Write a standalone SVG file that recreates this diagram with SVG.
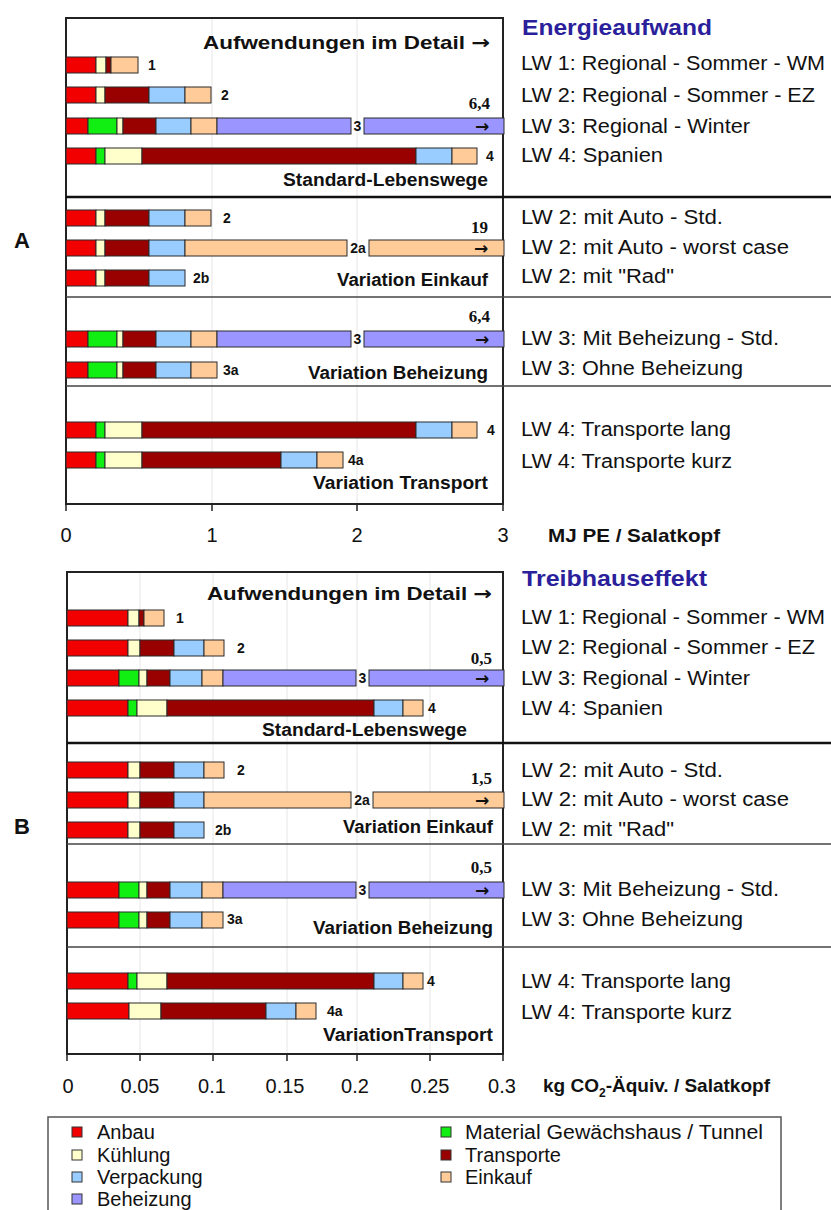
<svg xmlns="http://www.w3.org/2000/svg" width="831" height="1210" viewBox="0 0 831 1210">
<style>
text{font-family:"Liberation Sans",Arial,sans-serif;fill:#111}
.seg{stroke:#2a2a2a;stroke-width:1}
.r{fill:#f20000}.c{fill:#ffffcc}.d{fill:#990000}.b{fill:#99ccff}.t{fill:#ffcc99}.g{fill:#11ee11}.p{fill:#9b96ff}
.num{font-size:14px;font-weight:bold}
.val{font-family:"Liberation Serif","Times New Roman",serif;font-size:17px;font-weight:bold}
.arr{font-family:"DejaVu Sans",sans-serif;font-size:17px;font-weight:bold}
.ah{font-family:"DejaVu Sans",sans-serif;font-weight:bold}
.sec{font-size:19px;font-weight:bold}
.lw{font-size:20px}
.ttl{font-size:22px;font-weight:bold;fill:#2b1f9c}
.tick{font-size:20px;text-anchor:middle}
.ax{font-size:19px;font-weight:bold}
.leg{font-size:20px}
.grid{stroke:#e6e6e6;stroke-width:1}
.frame{fill:none;stroke:#222;stroke-width:2}
.thick{stroke:#111;stroke-width:2.5}
.thin{stroke:#444;stroke-width:1.5}
</style>

<!-- Letters -->
<text x="22" y="248" text-anchor="middle" style="font-size:22px;font-weight:bold">A</text>
<text x="22" y="834" text-anchor="middle" style="font-size:22px;font-weight:bold">B</text>

<!-- ================= TOP CHART ================= -->
<g id="chartA-frame">
  <line class="grid" x1="212" y1="19" x2="212" y2="503"/>
  <line class="grid" x1="357" y1="19" x2="357" y2="503"/>
  <rect class="frame" x="66" y="18" width="437" height="486"/>
  <line class="thick" x1="66" y1="197" x2="831" y2="197"/>
  <line class="thin" x1="66" y1="297" x2="831" y2="297"/>
  <line class="thin" x1="66" y1="386" x2="831" y2="386"/>
  <g stroke="#222" stroke-width="1.5">
    <line x1="66" y1="504" x2="66" y2="511"/>
    <line x1="212" y1="504" x2="212" y2="511"/>
    <line x1="357" y1="504" x2="357" y2="511"/>
    <line x1="503" y1="504" x2="503" y2="511"/>
  </g>
  <text class="tick" x="66" y="542">0</text>
  <text class="tick" x="212" y="542">1</text>
  <text class="tick" x="357" y="542">2</text>
  <text class="tick" x="503" y="542">3</text>
  <text class="ax" x="548" y="542" textLength="172" lengthAdjust="spacingAndGlyphs">MJ PE / Salatkopf</text>
  <text class="sec" x="203" y="49" textLength="287" lengthAdjust="spacingAndGlyphs">Aufwendungen im Detail <tspan class="ah">→</tspan></text>
  <text class="sec" x="283" y="186" textLength="205" lengthAdjust="spacingAndGlyphs" style="font-size:18px">Standard-Lebenswege</text>
  <text class="sec" x="337" y="286" textLength="151" lengthAdjust="spacingAndGlyphs" style="font-size:18px">Variation Einkauf</text>
  <text class="sec" x="308" y="379" textLength="180" lengthAdjust="spacingAndGlyphs" style="font-size:18px">Variation Beheizung</text>
  <text class="sec" x="313" y="489" textLength="175" lengthAdjust="spacingAndGlyphs" style="font-size:18px">Variation Transport</text>
</g>

<g id="chartA-bars">
  <g id="a-1">
    <rect class="seg r" x="66" y="57" width="30" height="16"/><rect class="seg c" x="96" y="57" width="10" height="16"/><rect class="seg d" x="106" y="57" width="5" height="16"/><rect class="seg t" x="111" y="57" width="27" height="16"/>
    <text class="num" x="148" y="70">1</text>
  </g>
  <g id="a-2">
    <rect class="seg r" x="66" y="87" width="30" height="16"/><rect class="seg c" x="96" y="87" width="9" height="16"/><rect class="seg d" x="105" y="87" width="44" height="16"/><rect class="seg b" x="149" y="87" width="36" height="16"/><rect class="seg t" x="185" y="87" width="26" height="16"/>
    <text class="num" x="221" y="100">2</text>
  </g>
  <g id="a-3">
    <rect class="seg r" x="66" y="118" width="22" height="16"/><rect class="seg g" x="88" y="118" width="29" height="16"/><rect class="seg c" x="117" y="118" width="6" height="16"/><rect class="seg d" x="123" y="118" width="33" height="16"/><rect class="seg b" x="156" y="118" width="35" height="16"/><rect class="seg t" x="191" y="118" width="26" height="16"/><rect class="seg p" x="217" y="118" width="134" height="16"/><rect class="seg p" x="364" y="118" width="140" height="16"/>
    <text class="num" x="357.5" y="131" text-anchor="middle">3</text>
    <text class="arr" x="482" y="132" text-anchor="middle">→</text>
    <text class="val" x="490" y="109" text-anchor="end">6,4</text>
  </g>
  <g id="a-4">
    <rect class="seg r" x="66" y="148" width="30" height="16"/><rect class="seg g" x="96" y="148" width="9" height="16"/><rect class="seg c" x="105" y="148" width="37" height="16"/><rect class="seg d" x="142" y="148" width="274" height="16"/><rect class="seg b" x="416" y="148" width="36" height="16"/><rect class="seg t" x="452" y="148" width="25" height="16"/>
    <text class="num" x="486" y="161">4</text>
  </g>
  <g id="a-2-std">
    <rect class="seg r" x="66" y="210" width="30" height="16"/><rect class="seg c" x="96" y="210" width="9" height="16"/><rect class="seg d" x="105" y="210" width="44" height="16"/><rect class="seg b" x="149" y="210" width="36" height="16"/><rect class="seg t" x="185" y="210" width="26" height="16"/>
    <text class="num" x="223" y="223">2</text>
  </g>
  <g id="a-2a">
    <rect class="seg r" x="66" y="240" width="30" height="16"/><rect class="seg c" x="96" y="240" width="9" height="16"/><rect class="seg d" x="105" y="240" width="44" height="16"/><rect class="seg b" x="149" y="240" width="36" height="16"/><rect class="seg t" x="185" y="240" width="162" height="16"/><rect class="seg t" x="369" y="240" width="135" height="16"/>
    <text class="num" x="358" y="253" text-anchor="middle">2a</text>
    <text class="arr" x="481" y="254" text-anchor="middle">→</text>
    <text class="val" x="488" y="233" text-anchor="end">19</text>
  </g>
  <g id="a-2b">
    <rect class="seg r" x="66" y="270" width="30" height="16"/><rect class="seg c" x="96" y="270" width="9" height="16"/><rect class="seg d" x="105" y="270" width="44" height="16"/><rect class="seg b" x="149" y="270" width="36" height="16"/>
    <text class="num" x="193" y="283">2b</text>
  </g>
  <g id="a-3-std">
    <rect class="seg r" x="66" y="331" width="22" height="16"/><rect class="seg g" x="88" y="331" width="29" height="16"/><rect class="seg c" x="117" y="331" width="6" height="16"/><rect class="seg d" x="123" y="331" width="33" height="16"/><rect class="seg b" x="156" y="331" width="35" height="16"/><rect class="seg t" x="191" y="331" width="26" height="16"/><rect class="seg p" x="217" y="331" width="134" height="16"/><rect class="seg p" x="364" y="331" width="140" height="16"/>
    <text class="num" x="357.5" y="344" text-anchor="middle">3</text>
    <text class="arr" x="482" y="345" text-anchor="middle">→</text>
    <text class="val" x="490" y="322" text-anchor="end">6,4</text>
  </g>
  <g id="a-3a">
    <rect class="seg r" x="66" y="362" width="22" height="16"/><rect class="seg g" x="88" y="362" width="29" height="16"/><rect class="seg c" x="117" y="362" width="6" height="16"/><rect class="seg d" x="123" y="362" width="33" height="16"/><rect class="seg b" x="156" y="362" width="35" height="16"/><rect class="seg t" x="191" y="362" width="26" height="16"/>
    <text class="num" x="223" y="375">3a</text>
  </g>
  <g id="a-4-lang">
    <rect class="seg r" x="66" y="422" width="30" height="16"/><rect class="seg g" x="96" y="422" width="9" height="16"/><rect class="seg c" x="105" y="422" width="37" height="16"/><rect class="seg d" x="142" y="422" width="274" height="16"/><rect class="seg b" x="416" y="422" width="36" height="16"/><rect class="seg t" x="452" y="422" width="25" height="16"/>
    <text class="num" x="487" y="435">4</text>
  </g>
  <g id="a-4a">
    <rect class="seg r" x="66" y="452" width="30" height="16"/><rect class="seg g" x="96" y="452" width="9" height="16"/><rect class="seg c" x="105" y="452" width="37" height="16"/><rect class="seg d" x="142" y="452" width="139" height="16"/><rect class="seg b" x="281" y="452" width="36" height="16"/><rect class="seg t" x="317" y="452" width="26" height="16"/>
    <text class="num" x="348" y="465">4a</text>
  </g>
</g>

<g id="legendA-text">
  <text class="ttl" x="522" y="35" textLength="190" lengthAdjust="spacingAndGlyphs">Energieaufwand</text>
  <text class="lw" x="521" y="70" textLength="304" lengthAdjust="spacingAndGlyphs">LW 1: Regional - Sommer - WM</text>
  <text class="lw" x="521" y="102" textLength="294" lengthAdjust="spacingAndGlyphs">LW 2: Regional - Sommer - EZ</text>
  <text class="lw" x="521" y="133" textLength="229" lengthAdjust="spacingAndGlyphs">LW 3: Regional - Winter</text>
  <text class="lw" x="521" y="162" textLength="142" lengthAdjust="spacingAndGlyphs">LW 4: Spanien</text>
  <text class="lw" x="521" y="224" textLength="202" lengthAdjust="spacingAndGlyphs">LW 2: mit Auto - Std.</text>
  <text class="lw" x="521" y="254" textLength="268" lengthAdjust="spacingAndGlyphs">LW 2: mit Auto - worst case</text>
  <text class="lw" x="521" y="283" textLength="153" lengthAdjust="spacingAndGlyphs">LW 2: mit "Rad"</text>
  <text class="lw" x="521" y="345" textLength="258" lengthAdjust="spacingAndGlyphs">LW 3: Mit Beheizung - Std.</text>
  <text class="lw" x="521" y="375" textLength="222" lengthAdjust="spacingAndGlyphs">LW 3: Ohne Beheizung</text>
  <text class="lw" x="521" y="436" textLength="210" lengthAdjust="spacingAndGlyphs">LW 4: Transporte lang</text>
  <text class="lw" x="521" y="468" textLength="211" lengthAdjust="spacingAndGlyphs">LW 4: Transporte kurz</text>
</g>

<!-- ================= BOTTOM CHART ================= -->
<g id="chartB-frame">
  <line class="grid" x1="140" y1="573" x2="140" y2="1053"/>
  <line class="grid" x1="213" y1="573" x2="213" y2="1053"/>
  <line class="grid" x1="287" y1="573" x2="287" y2="1053"/>
  <line class="grid" x1="357" y1="573" x2="357" y2="1053"/>
  <line class="grid" x1="430" y1="573" x2="430" y2="1053"/>
  <rect class="frame" x="67" y="572" width="436" height="482"/>
  <line class="thick" x1="67" y1="743" x2="831" y2="743"/>
  <line class="thin" x1="67" y1="844" x2="831" y2="844"/>
  <line class="thin" x1="67" y1="947" x2="831" y2="947"/>
  <g stroke="#222" stroke-width="1.5">
    <line x1="67" y1="1054" x2="67" y2="1061"/>
    <line x1="140" y1="1054" x2="140" y2="1061"/>
    <line x1="213" y1="1054" x2="213" y2="1061"/>
    <line x1="287" y1="1054" x2="287" y2="1061"/>
    <line x1="357" y1="1054" x2="357" y2="1061"/>
    <line x1="430" y1="1054" x2="430" y2="1061"/>
    <line x1="503" y1="1054" x2="503" y2="1061"/>
  </g>
  <text class="tick" x="68" y="1093">0</text>
  <text class="tick" x="140" y="1093">0.05</text>
  <text class="tick" x="212" y="1093">0.1</text>
  <text class="tick" x="285" y="1093">0.15</text>
  <text class="tick" x="355" y="1093">0.2</text>
  <text class="tick" x="430" y="1093">0.25</text>
  <text class="tick" x="502" y="1093">0.3</text>
  <text class="ax" x="543" y="1092">kg CO<tspan style="font-size:12px" dy="5">2</tspan><tspan dy="-5">-Äquiv. / Salatkopf</tspan></text>
  <text class="sec" x="207" y="600" textLength="285" lengthAdjust="spacingAndGlyphs">Aufwendungen im Detail <tspan class="ah">→</tspan></text>
  <text class="sec" x="262" y="736" textLength="205" lengthAdjust="spacingAndGlyphs" style="font-size:18px">Standard-Lebenswege</text>
  <text class="sec" x="343" y="833" textLength="150" lengthAdjust="spacingAndGlyphs" style="font-size:18px">Variation Einkauf</text>
  <text class="sec" x="313" y="934" textLength="180" lengthAdjust="spacingAndGlyphs" style="font-size:18px">Variation Beheizung</text>
  <text class="sec" x="323" y="1041" textLength="170" lengthAdjust="spacingAndGlyphs" style="font-size:18px">VariationTransport</text>
</g>

<g id="chartB-bars">
  <g id="b-1">
    <rect class="seg r" x="67" y="610" width="61" height="16"/><rect class="seg c" x="128" y="610" width="11" height="16"/><rect class="seg d" x="139" y="610" width="5" height="16"/><rect class="seg t" x="144" y="610" width="20" height="16"/>
    <text class="num" x="176" y="623">1</text>
  </g>
  <g id="b-2">
    <rect class="seg r" x="67" y="640" width="61" height="16"/><rect class="seg c" x="128" y="640" width="12" height="16"/><rect class="seg d" x="140" y="640" width="34" height="16"/><rect class="seg b" x="174" y="640" width="30" height="16"/><rect class="seg t" x="204" y="640" width="20" height="16"/>
    <text class="num" x="237" y="653">2</text>
  </g>
  <g id="b-3">
    <rect class="seg r" x="67" y="670" width="52" height="16"/><rect class="seg g" x="119" y="670" width="20" height="16"/><rect class="seg c" x="139" y="670" width="8" height="16"/><rect class="seg d" x="147" y="670" width="23" height="16"/><rect class="seg b" x="170" y="670" width="32" height="16"/><rect class="seg t" x="202" y="670" width="21" height="16"/><rect class="seg p" x="223" y="670" width="133" height="16"/><rect class="seg p" x="369" y="670" width="135" height="16"/>
    <text class="num" x="362.5" y="683" text-anchor="middle">3</text>
    <text class="arr" x="482" y="684" text-anchor="middle">→</text>
    <text class="val" x="492" y="664" text-anchor="end">0,5</text>
  </g>
  <g id="b-4">
    <rect class="seg r" x="67" y="700" width="61" height="16"/><rect class="seg g" x="128" y="700" width="9" height="16"/><rect class="seg c" x="137" y="700" width="30" height="16"/><rect class="seg d" x="167" y="700" width="207" height="16"/><rect class="seg b" x="374" y="700" width="29" height="16"/><rect class="seg t" x="403" y="700" width="20" height="16"/>
    <text class="num" x="428" y="713">4</text>
  </g>
  <g id="b-2-std">
    <rect class="seg r" x="67" y="762" width="61" height="16"/><rect class="seg c" x="128" y="762" width="12" height="16"/><rect class="seg d" x="140" y="762" width="34" height="16"/><rect class="seg b" x="174" y="762" width="30" height="16"/><rect class="seg t" x="204" y="762" width="20" height="16"/>
    <text class="num" x="237" y="775">2</text>
  </g>
  <g id="b-2a">
    <rect class="seg r" x="67" y="792" width="61" height="16"/><rect class="seg c" x="128" y="792" width="12" height="16"/><rect class="seg d" x="140" y="792" width="34" height="16"/><rect class="seg b" x="174" y="792" width="30" height="16"/><rect class="seg t" x="204" y="792" width="147" height="16"/><rect class="seg t" x="373" y="792" width="131" height="16"/>
    <text class="num" x="362" y="805" text-anchor="middle">2a</text>
    <text class="arr" x="482" y="806" text-anchor="middle">→</text>
    <text class="val" x="492" y="784" text-anchor="end">1,5</text>
  </g>
  <g id="b-2b">
    <rect class="seg r" x="67" y="822" width="61" height="16"/><rect class="seg c" x="128" y="822" width="12" height="16"/><rect class="seg d" x="140" y="822" width="34" height="16"/><rect class="seg b" x="174" y="822" width="30" height="16"/>
    <text class="num" x="215" y="835">2b</text>
  </g>
  <g id="b-3-std">
    <rect class="seg r" x="67" y="882" width="52" height="16"/><rect class="seg g" x="119" y="882" width="20" height="16"/><rect class="seg c" x="139" y="882" width="8" height="16"/><rect class="seg d" x="147" y="882" width="23" height="16"/><rect class="seg b" x="170" y="882" width="32" height="16"/><rect class="seg t" x="202" y="882" width="21" height="16"/><rect class="seg p" x="223" y="882" width="133" height="16"/><rect class="seg p" x="369" y="882" width="135" height="16"/>
    <text class="num" x="362.5" y="895" text-anchor="middle">3</text>
    <text class="arr" x="482" y="896" text-anchor="middle">→</text>
    <text class="val" x="492" y="873" text-anchor="end">0,5</text>
  </g>
  <g id="b-3a">
    <rect class="seg r" x="67" y="912" width="52" height="16"/><rect class="seg g" x="119" y="912" width="20" height="16"/><rect class="seg c" x="139" y="912" width="8" height="16"/><rect class="seg d" x="147" y="912" width="23" height="16"/><rect class="seg b" x="170" y="912" width="32" height="16"/><rect class="seg t" x="202" y="912" width="21" height="16"/>
    <text class="num" x="227" y="924">3a</text>
  </g>
  <g id="b-4-lang">
    <rect class="seg r" x="67" y="973" width="61" height="16"/><rect class="seg g" x="128" y="973" width="9" height="16"/><rect class="seg c" x="137" y="973" width="30" height="16"/><rect class="seg d" x="167" y="973" width="207" height="16"/><rect class="seg b" x="374" y="973" width="29" height="16"/><rect class="seg t" x="403" y="973" width="20" height="16"/>
    <text class="num" x="427" y="986">4</text>
  </g>
  <g id="b-4a">
    <rect class="seg r" x="67" y="1003" width="62" height="16"/><rect class="seg c" x="129" y="1003" width="32" height="16"/><rect class="seg d" x="161" y="1003" width="105" height="16"/><rect class="seg b" x="266" y="1003" width="30" height="16"/><rect class="seg t" x="296" y="1003" width="20" height="16"/>
    <text class="num" x="327" y="1016">4a</text>
  </g>
</g>

<g id="legendB-text">
  <text class="ttl" x="522" y="586" textLength="185" lengthAdjust="spacingAndGlyphs">Treibhauseffekt</text>
  <text class="lw" x="521" y="624" textLength="304" lengthAdjust="spacingAndGlyphs">LW 1: Regional - Sommer - WM</text>
  <text class="lw" x="521" y="654" textLength="294" lengthAdjust="spacingAndGlyphs">LW 2: Regional - Sommer - EZ</text>
  <text class="lw" x="521" y="685" textLength="229" lengthAdjust="spacingAndGlyphs">LW 3: Regional - Winter</text>
  <text class="lw" x="521" y="715" textLength="142" lengthAdjust="spacingAndGlyphs">LW 4: Spanien</text>
  <text class="lw" x="521" y="777" textLength="202" lengthAdjust="spacingAndGlyphs">LW 2: mit Auto - Std.</text>
  <text class="lw" x="521" y="806" textLength="268" lengthAdjust="spacingAndGlyphs">LW 2: mit Auto - worst case</text>
  <text class="lw" x="521" y="836" textLength="153" lengthAdjust="spacingAndGlyphs">LW 2: mit "Rad"</text>
  <text class="lw" x="521" y="896" textLength="258" lengthAdjust="spacingAndGlyphs">LW 3: Mit Beheizung - Std.</text>
  <text class="lw" x="521" y="926" textLength="222" lengthAdjust="spacingAndGlyphs">LW 3: Ohne Beheizung</text>
  <text class="lw" x="521" y="988" textLength="210" lengthAdjust="spacingAndGlyphs">LW 4: Transporte lang</text>
  <text class="lw" x="521" y="1019" textLength="211" lengthAdjust="spacingAndGlyphs">LW 4: Transporte kurz</text>
</g>

<!-- ================= LEGEND ================= -->
<g id="legend">
  <rect x="48" y="1117" width="733" height="110" fill="#fff" stroke="#555" stroke-width="1.5"/>
  <g stroke="#333" stroke-width="1">
    <rect class="r" x="72" y="1127" width="10" height="10"/>
    <rect class="c" x="72" y="1150" width="10" height="10"/>
    <rect class="b" x="72" y="1172" width="10" height="10"/>
    <rect class="p" x="72" y="1194" width="10" height="10"/>
    <rect class="g" x="441" y="1127" width="10" height="10"/>
    <rect class="d" x="441" y="1150" width="10" height="10"/>
    <rect class="t" x="441" y="1172" width="10" height="10"/>
  </g>
  <text class="leg" x="97" y="1139">Anbau</text>
  <text class="leg" x="97" y="1162">Kühlung</text>
  <text class="leg" x="97" y="1184">Verpackung</text>
  <text class="leg" x="97" y="1206">Beheizung</text>
  <text class="leg" x="465" y="1139" textLength="298" lengthAdjust="spacingAndGlyphs">Material Gewächshaus / Tunnel</text>
  <text class="leg" x="465" y="1162">Transporte</text>
  <text class="leg" x="465" y="1184">Einkauf</text>
</g>
</svg>
